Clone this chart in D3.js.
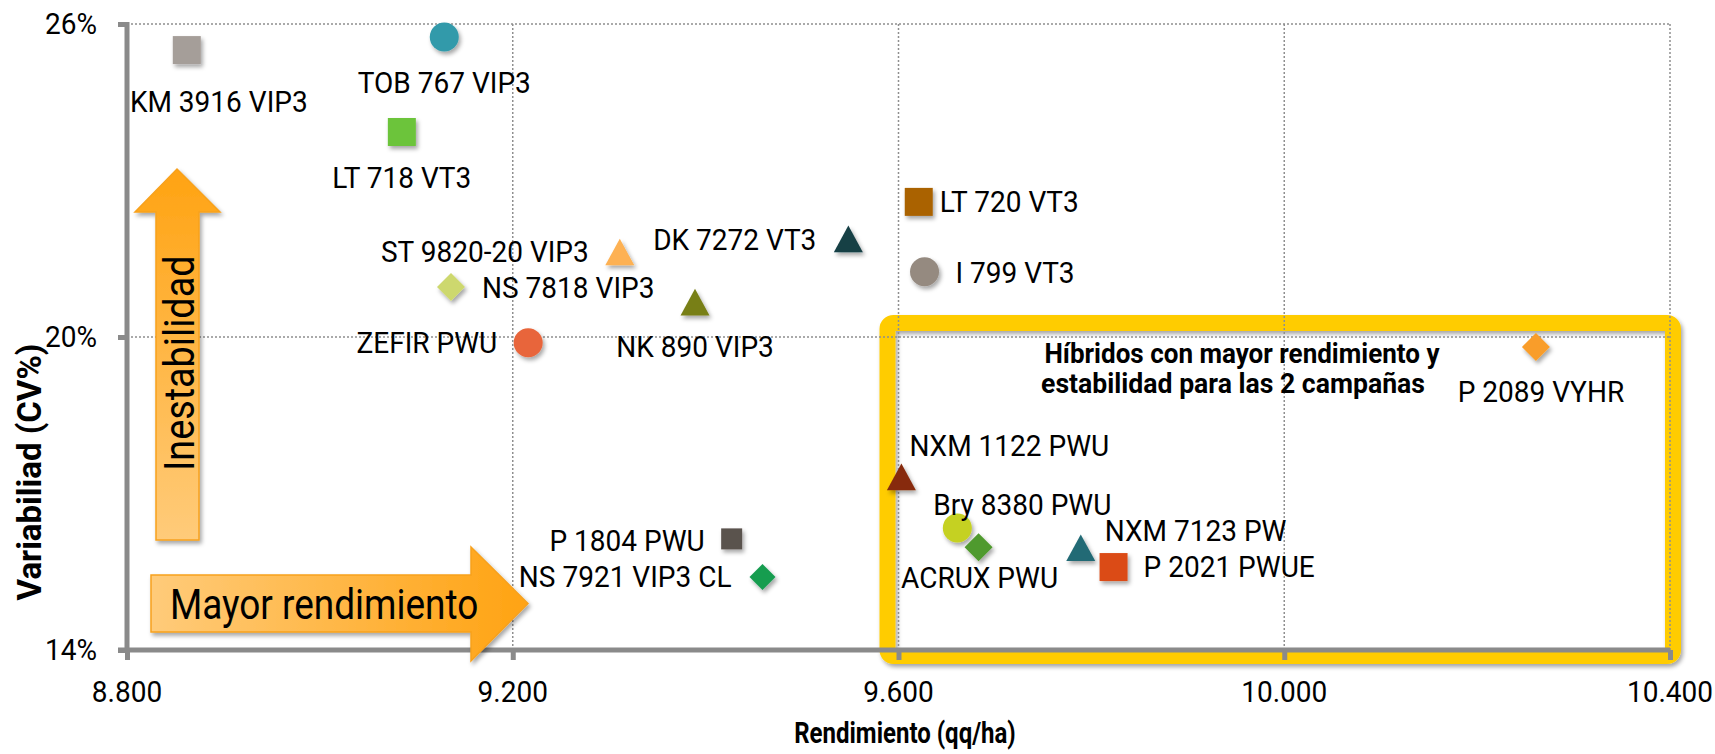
<!DOCTYPE html>
<html>
<head>
<meta charset="utf-8">
<script src="https://cdn.jsdelivr.net/npm/d3@7"></script>
<style>
  html, body { margin: 0; padding: 0; background: #fff; }
  svg { display: block; }
  text { font-family: Roboto, "Noto Sans", sans-serif; }
</style>
</head>
<body>
<svg id="chart" width="1715" height="754"></svg>
<script>
// ---------------- data ----------------
const hybrids = [
  "KM 3916 VIP3", "TOB 767 VIP3", "LT 718 VT3", "LT 720 VT3", "DK 7272 VT3",
  "ST 9820-20 VIP3", "I 799 VT3", "NS 7818 VIP3", "NK 890 VIP3", "ZEFIR PWU",
  "P 2089 VYHR", "NXM 1122 PWU", "Bry 8380 PWU", "ACRUX PWU", "NXM 7123 PW",
  "P 2021 PWUE", "P 1804 PWU", "NS 7921 VIP3 CL"
];
const rendimiento = [
  8862, 9129, 9085, 9621, 9548,
  9311, 9627, 9136, 9389, 9216,
  10261, 9603, 9661, 9683, 9789,
  9823, 9427, 9459
];
const variabilidad = [
  25.50, 25.75, 23.93, 22.59, 21.88,
  21.63, 21.25, 20.96, 20.67, 19.89,
  19.81, 17.32, 16.34, 15.97, 15.96,
  15.59, 16.13, 15.40
];
const xTicks = [8800, 9200, 9600, 10000, 10400];
const yTicks = [14, 20, 26];
const xTitle = "Rendimiento (qq/ha)";
const yTitle = "Variabiliad (CV%)";
const boxText = ["Híbridos con mayor rendimiento y", "estabilidad para las 2 campañas"];
const arrowX = "Mayor rendimiento";
const arrowY = "Inestabilidad";

// ---------------- styles ----------------
const markerShape = [
  "square", "circle", "square", "square", "triangle",
  "triangle", "circle", "diamond", "triangle", "circle",
  "diamond", "triangle", "circle", "diamond", "triangle",
  "square", "square", "diamond"
];
const markerColor = [
  "#A59E99", "#339AAA", "#6CC43A", "#AA6200", "#153F45",
  "#FDB152", "#958A80", "#CDD86E", "#787F17", "#E8653A",
  "#F99D2A", "#872C0E", "#C5D122", "#4F9A2D", "#226A75",
  "#DB4B17", "#5A524E", "#169D50"
];
const markerSize = [
  28, 29, 28, 28, 29,
  29, 29, 28, 29, 29,
  28, 29, 29, 28, 29,
  28, 21, 26
];
// label placement relative to marker: [dx, dy(baseline), anchor]
const labelPlace = [
  [32, 62, "middle"], [0, 56, "middle"], [0, 56, "middle"], [21, 10, "start"], [-32, 11, "end"],
  [-31, 10, "end"], [31, 11, "start"], [31, 11, "start"], [0, 55, "middle"], [-31, 10, "end"],
  [5, 55, "middle"], [8, -21, "start"], [-24, -13, "start"], [1, 41, "middle"], [24, -7, "start"],
  [30, 10, "start"], [-27, 12, "end"], [-31, 10, "end"]
];

const svg = d3.select("#chart");
svg.append("rect").attr("width", 1715).attr("height", 754).attr("fill", "#fff");

const defs = svg.append("defs");
const f = defs.append("filter").attr("id", "shadow")
  .attr("x", "-50%").attr("y", "-50%").attr("width", "200%").attr("height", "200%");
f.append("feDropShadow").attr("dx", 2).attr("dy", 3).attr("stdDeviation", 2)
  .attr("flood-color", "#000").attr("flood-opacity", 0.35);

const gH = defs.append("linearGradient").attr("id", "gradH").attr("x1", "0").attr("x2", "1").attr("y1", "0").attr("y2", "0");
gH.append("stop").attr("offset", "0").attr("stop-color", "#FFCB7A");
gH.append("stop").attr("offset", "1").attr("stop-color", "#FFA312");
const gV = defs.append("linearGradient").attr("id", "gradV").attr("x1", "0").attr("x2", "0").attr("y1", "0").attr("y2", "1");
gV.append("stop").attr("offset", "0").attr("stop-color", "#FFA312");
gV.append("stop").attr("offset", "1").attr("stop-color", "#FFCB7A");

const x = d3.scaleLinear().domain([8800, 10400]).range([127, 1670]);
const y = d3.scaleLinear().domain([14, 26]).range([650, 24]);

function addText(parent, px, py, str, opt) {
  opt = opt || {};
  const g = parent.append("g")
    .attr("transform", `translate(${px},${py})` + (opt.rotate ? ` rotate(${opt.rotate})` : "") + ` scale(${opt.sx || 0.95},1)`);
  return g.append("text")
    .attr("text-anchor", opt.anchor || "start")
    .attr("font-size", opt.size || 29.5)
    .attr("font-weight", opt.weight || 400)
    .attr("fill", "#000")
    .text(str);
}

// ---------------- highlight box ----------------
svg.append("rect")
  .attr("x", 887.5).attr("y", 323).attr("width", 1673 - 887.5).attr("height", 656 - 323)
  .attr("rx", 6).attr("ry", 6)
  .attr("fill", "none").attr("stroke", "#FFCC00").attr("stroke-width", 16)
  .attr("filter", "url(#shadow)");

// ---------------- grid ----------------
const grid = svg.append("g");
grid.selectAll("line.v").data(xTicks.slice(1)).join("line")
  .attr("x1", d => x(d)).attr("x2", d => x(d)).attr("y1", y(26)).attr("y2", y(14))
  .attr("stroke", "#8f8f8f").attr("stroke-width", 1.5).attr("stroke-dasharray", "2,2");
grid.selectAll("line.h").data(yTicks.slice(1)).join("line")
  .attr("x1", x(8800)).attr("x2", x(10400)).attr("y1", d => y(d)).attr("y2", d => y(d))
  .attr("stroke", "#8f8f8f").attr("stroke-width", 1.5).attr("stroke-dasharray", "2,2");

// ---------------- axes ----------------
const loc = d3.formatLocale({ decimal: ",", thousands: ".", grouping: [3], currency: ["$", ""] });
const fmtX = loc.format(",");

const xAxis = svg.append("g").attr("transform", `translate(0,${y(14)})`)
  .call(d3.axisBottom(x).tickValues(xTicks).tickSize(10).tickSizeOuter(0).tickFormat(fmtX));
const yAxis = svg.append("g").attr("transform", `translate(${x(8800)},0)`)
  .call(d3.axisLeft(y).tickValues(yTicks).tickSize(9).tickSizeOuter(0).tickFormat(d => d + "%"));
[xAxis, yAxis].forEach(a => {
  a.select(".domain").attr("stroke", "#8a8a8a").attr("stroke-width", 5);
  a.selectAll(".tick line").attr("stroke", "#8a8a8a").attr("stroke-width", 5);
  a.selectAll(".tick text").remove();
});
xAxis.select(".domain").attr("d", `M${x(8800) - 9},0H${x(10400)}`);
yAxis.select(".domain").attr("d", `M0,${y(14)}V${y(26) - 2}`);

xTicks.forEach(t => addText(svg, x(t), 702, fmtX(t), { anchor: "middle" }));
yTicks.forEach(t => addText(svg, 97, y(t) + 10, t + "%", { anchor: "end" }));

addText(svg, 905, 743, xTitle, { anchor: "middle", size: 30, sx: 0.80, weight: 700 });
addText(svg, 41, 472, yTitle, { anchor: "middle", size: 33, sx: 1.0, weight: 700, rotate: -90 });

// ---------------- arrows ----------------
svg.append("path")
  .attr("d", "M151,575 L471,575 L471,547 L528,603.5 L471,661 L471,632 L151,632 Z")
  .attr("fill", "url(#gradH)").attr("stroke", "#F7A11E").attr("stroke-width", 1.5)
  .attr("filter", "url(#shadow)");
addText(svg, 170, 619, arrowX, { size: 42, sx: 0.88 });

svg.append("path")
  .attr("d", "M177,169 L220,212 L199,212 L199,540 L156,540 L156,212 L135,212 Z")
  .attr("fill", "url(#gradV)").attr("stroke", "#F7A11E").attr("stroke-width", 1.5)
  .attr("filter", "url(#shadow)");
addText(svg, 194, 471, arrowY, { size: 42, sx: 0.90, rotate: -90 });

// ---------------- box text ----------------
addText(svg, 1242, 363, boxText[0], { anchor: "middle", size: 28, sx: 0.93, weight: 700 });
addText(svg, 1233, 393, boxText[1], { anchor: "middle", size: 28, sx: 0.95, weight: 700 });

// ---------------- markers ----------------
function shapePath(shape, s) {
  const h = s / 2;
  switch (shape) {
    case "square": return `M${-h},${-h}H${h}V${h}H${-h}Z`;
    case "triangle": { const th = s * 0.92 / 2; return `M0,${-th}L${h},${th}L${-h},${th}Z`; }
    case "diamond": return `M0,${-h}L${h},0L0,${h}L${-h},0Z`;
    default: return `M${h},0A${h},${h} 0 1,1 ${-h},0A${h},${h} 0 1,1 ${h},0Z`;
  }
}
const idx = d3.range(hybrids.length);
svg.append("g").selectAll("path").data(idx).join("path")
  .attr("transform", i => `translate(${x(rendimiento[i])},${y(variabilidad[i])})`)
  .attr("d", i => shapePath(markerShape[i], markerSize[i]))
  .attr("fill", i => markerColor[i])
  .attr("filter", "url(#shadow)");

const labels = svg.append("g");
idx.forEach(i => {
  const [dx, dy, anchor] = labelPlace[i];
  addText(labels, x(rendimiento[i]) + dx, y(variabilidad[i]) + dy, hybrids[i], { anchor });
});
</script>
</body>
</html>
